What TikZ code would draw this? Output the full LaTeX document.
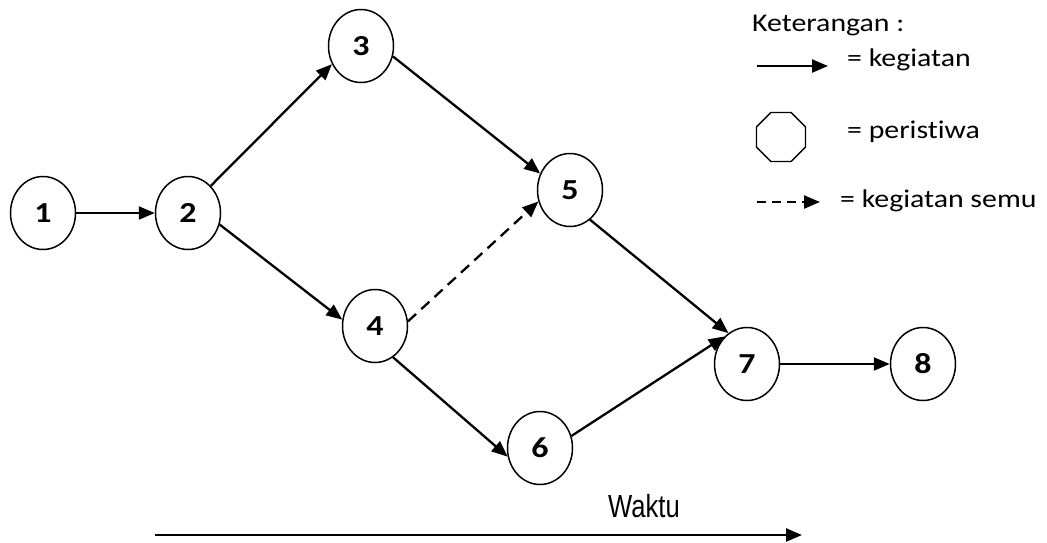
\documentclass[tikz,border=0pt]{standalone}
\usepackage{fontspec}
\setmainfont{Carlito}[Ligatures=NoCommon]
\newfontfamily\arialf{Liberation Sans}
\usetikzlibrary{arrows.meta,shapes.geometric}
\begin{document}
\begin{tikzpicture}[x=1pt,y=-1pt,
  ev/.style={draw, ellipse, line width=1.5pt, minimum width=65pt, minimum height=73pt, inner sep=0pt,
    font=\fontsize{29}{31}\selectfont\bfseries},
  act/.style={line width=2.3pt, -{Triangle[length=16pt,width=13pt]}},
  dum/.style={act, dash pattern=on 11pt off 7pt},
  lbl/.style={anchor=base west, inner sep=0pt, font=\fontsize{25.5}{28}\selectfont}]
\useasboundingbox (0,0) rectangle (1047,542);
% events
\node[ev] (n1) at (43,213) {\scalebox{1.17}[1]{1}};
\node[ev] (n2) at (188,213) {\scalebox{1.17}[1]{2}};
\node[ev] (n3) at (361,46) {\scalebox{1.17}[1]{3}};
\node[ev] (n4) at (375,326) {\scalebox{1.17}[1]{4}};
\node[ev] (n5) at (570,190) {\scalebox{1.17}[1]{5}};
\node[ev] (n6) at (540,448) {\scalebox{1.17}[1]{6}};
\node[ev] (n7) at (747,364) {\scalebox{1.17}[1]{7}};
\node[ev] (n8) at (923,364) {\scalebox{1.17}[1]{8}};
% activities
\draw[act] (n1.east) -- (n2.west);
\draw[act] (n2.50) -- (n3.212);
\draw[act] (n2.-20) -- (n4.169);
\draw[act] (n3.-18) -- (n5.151);
\draw[dum] (n4.8) -- (n5.200);
\draw[act] (n4.-60) -- (n6.195);
\draw[act] (n5.-56) -- (n7.121);
\draw[act] (n6.21) -- (n7.129);
\draw[act] (n7.east) -- (n8.west);
% legend
\node[lbl] (ket) at (752,31) {\scalebox{1.17}[1]{Keterangan :}};
\coordinate (la1) at (757,66);
\coordinate (la2) at (828,66);
\draw[act] (la1) -- (la2);
\node[lbl] (lk) at (847,66) {\scalebox{1.17}[1]{= kegiatan}};
\node[draw, regular polygon, regular polygon sides=8, minimum size=53pt, inner sep=0pt, line width=1.4pt] (oct) at (781,137) {};
\node[lbl] (lp) at (847,138) {\scalebox{1.17}[1]{= peristiwa}};
\coordinate (ld1) at (757,202);
\coordinate (ld2) at (820,202);
\draw[act, dash pattern=on 9pt off 6pt] (ld1) -- (ld2);
\node[lbl] (ls) at (840,207) {\scalebox{1.17}[1]{= kegiatan semu}};
% time axis
\node[anchor=base west, inner sep=0pt, font=\arialf\fontsize{32}{34}\selectfont] (wk) at (608,517) {\scalebox{0.8}[1]{Waktu}};
\coordinate (t1) at (155,535);
\coordinate (t2) at (802,535);
\draw[act, line width=2.6pt] (t1) -- (t2);
\end{tikzpicture}
\end{document}
